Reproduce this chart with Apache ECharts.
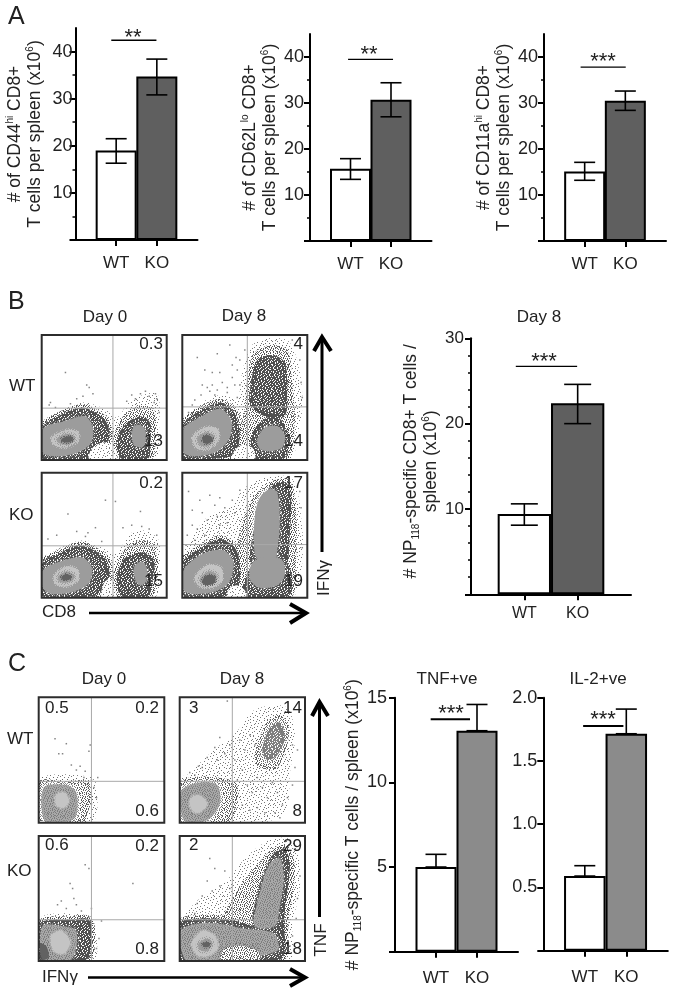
<!DOCTYPE html>
<html><head><meta charset="utf-8">
<style>html,body{margin:0;padding:0;background:#fff}#c{width:676px;height:996px}</style>
<script src="https://cdn.jsdelivr.net/npm/echarts@6/dist/echarts.min.js"></script>
</head><body><div id="c"></div>
<script>
// ---------- bar chart data ----------
const categories = ['WT', 'KO'];
const cd44Values = [19, 34.7];
const cd44Err = [[16.3, 21.5], [30.8, 38.4]];
const cd62Values = [15.7, 30.7];
const cd62Err = [[13.4, 17.9], [27, 34.4]];
const cd11Values = [15.1, 30.5];
const cd11Err = [[13.2, 17.1], [28.4, 32.6]];
const npValues = [9.4, 22.4];
const npErr = [[8.1, 10.6], [20, 24.6]];
const tnfValues = [5, 13.05];
const tnfErr = [[5, 5.75], [13.05, 14.6]];
const il2Values = [0.59, 1.715];
const il2Err = [[0.59, 0.672], [1.715, 1.91]];

// ---------- flow cytometry panels (x,y in % of the plot) ----------
// polygons: [level, x,y, x,y ...]  levels: S sparse, M medium, N dense light, D dense dark, H mottled grey, G grey, L light, C core
const bWT0Layers = [
 ['S',1,29,15,39,33,46,50,41,60,34,70,46,84,53,93,52,94,30,90,1,1,1],
 ['D',1,27,15,36,33,42,44,37,52,30,54,18,47,6,40,1,1,1],
 ['M',58,20,66,36,80,44,90,40,91,16,88,1,60,1],
 ['D',60,12,62,22,71,32,81,35,87,29,87,15,85,1,64,1],
 ['S',38,1,41,10,50,14,58,10,60,1],
 ['G',1,25,18,31,35,35,41,25,39,13,26,5,10,3,1,6],
 ['L',8,18,20,24,29,22,29,15,20,10,10,12],
 ['G',12,17,20,21,26,19,26,15,20,12,13,14],
 ['C',16,17,21,19,25,18,24,15,20,14,16,15],
 ['G',72,20,74,27,79,28,83,24,83,14,80,10,74,12]];
const bWT0Dots = [19,70,36,60,38,58,41,53,7,46,6,44,79,53,83,55,91,53,92,49,28,49,68,47,72,52,86,51,75,49,90,46,94,38,33,51,23,45,11,42];
const bWT8Layers = [
 ['S',0,30,16,46,30,52,44,50,48,70,54,90,66,97,85,95,94,70,96,42,92,20,85,1,0,1],
 ['M',50,42,52,65,57,85,70,92,84,88,88,60,90,30,84,1,45,1],
 ['D',55,62,60,80,72,84,82,78,84,55,82,35,70,34,60,38,54,45],
 ['D',0,27,10,37,30,46,40,40,45,28,45,12,38,3,25,1,0,1],
 ['D',54,12,58,25,68,34,78,33,84,22,84,5,80,1,56,1],
 ['S',40,1,42,8,48,12,56,10,58,1],
 ['G',1,25,12,33,30,41,39,32,38,18,28,7,12,3,1,6],
 ['L',8,18,18,26,28,25,29,16,22,9,12,9],
 ['G',12,18,19,22,25,20,25,15,20,11,14,12],
 ['C',16,18,20,20,24,18,24,15,20,13,17,14],
 ['G',60,16,66,26,76,27,82,20,80,10,70,7,62,9]];
const bWT8Dots = [12,82,28,85,30,70,32,62,20,58,15,52,8,44,42,60,40,76,46,80,24,70,26,52,36,54,44,50,50,88,94,80,88,96,95,62,96,50,93,35,38,92,18,72,5,38,10,48,24,60,34,44,40,66,44,72,36,58,28,56,46,60,43,82,22,55,16,60];
const bKO0Layers = [
 ['S',1,30,15,40,35,46,52,38,60,36,72,52,85,53,94,45,93,20,88,1,1,1],
 ['D',1,28,15,36,30,42,42,38,52,30,54,18,48,5,40,1,1,1],
 ['M',58,20,64,36,78,46,90,42,92,18,88,1,60,1],
 ['D',60,12,62,24,68,33,82,36,90,30,88,10,85,1,64,1],
 ['S',48,1,50,12,55,15,58,8,60,1],
 ['G',1,22,18,30,33,32,40,24,38,12,26,5,8,3,1,8],
 ['L',10,18,20,25,29,22,29,14,20,9,11,11],
 ['G',13,17,20,21,26,18,25,14,19,12,14,13],
 ['C',16,17,20,19,24,17,23,15,19,14,16,15],
 ['G',74,18,74,25,80,29,84,24,84,14,80,10,76,12]];
const bKO0Dots = [21,67,51,78,59,77,79,69,43,56,37,52,28,53,5,47,12,50,35,49,72,58,80,57,86,55,92,50,65,56,48,45];
const bKO8Layers = [
 ['S',0,32,10,52,22,66,38,72,50,88,66,96,88,95,96,55,95,20,87,1,0,1],
 ['M',42,30,48,60,58,82,72,92,85,94,91,70,91,30,86,1,40,1],
 ['D',54,30,58,58,64,78,72,90,83,92,87,80,86,50,84,25,80,15,60,18],
 ['D',0,28,15,40,30,47,42,40,46,28,45,10,38,2,0,1],
 ['D',48,5,52,20,60,30,75,36,84,28,88,15,84,1,50,1],
 ['S',36,1,38,8,44,10,50,6,51,1],
 ['G',58,35,58,65,62,80,70,87,76,84,78,60,76,38,74,28,64,28],
 ['G',54,15,56,28,68,33,80,30,82,18,76,10,62,8],
 ['G',1,22,16,35,33,38,41,28,37,12,26,5,10,3,1,6],
 ['L',10,16,20,26,31,24,32,14,24,8,14,9],
 ['G',14,15,21,21,27,19,27,13,21,10,16,11],
 ['C',16,14,20,18,26,17,26,12,20,10,17,11]];
const bKO8Dots = [5,85,8,70,14,78,20,62,28,65,34,72,22,82,12,55,40,78,46,86,4,50,30,58,95,72,94,85,96,40,18,50,3,42,36,60,26,74,42,68,16,68,8,58,30,80,10,46];
const cWT0Layers = [
 ['S',1,35,40,37,46,30,43,1,1,1],
 ['M',1,33,20,33,39,33,42,20,38,5,36,1,1,1],
 ['H',4,28,22,30,30,24,30,6,24,1,5,1],
 ['L',14,22,20,24,24,18,20,12,14,14]];
const cWT0Dots = [13,67,22,63,16,55,19,55,41,62,40,57,26,46,33,45,37,41,36,36,44,28,46,20,42,34,30,42,42,15,47,36];
const cWT8Layers = [
 ['S',8,36,25,56,45,72,60,90,85,92,92,70,88,40,85,10,70,1,40,1,30,30],
 ['M',60,48,68,78,80,86,87,76,84,55,75,42],
 ['N',66,58,72,76,80,80,84,68,78,54,70,50],
 ['M',1,33,30,36,46,30,40,1,1,1],
 ['H',1,25,15,32,30,30,32,15,22,2,4,1],
 ['L',8,18,15,22,22,15,15,8,10,10]];
const cWT8Dots = [38,97,15,45,22,52,28,60,32,68,36,55,40,62,44,50,48,66,52,58,56,70,60,62,64,54,50,42,46,34,54,30,58,24,62,36,66,28,70,20,74,32,78,24,82,14,86,20,90,30,92,44,90,62,94,58,50,14,56,10,62,12,68,8,76,8,80,4,44,12,8,40,18,44,12,38,30,50];
const cKO0Layers = [
 ['S',1,34,30,38,42,34,46,20,44,1,1,1],
 ['D',1,30,25,33,40,33,42,15,38,1,1,1],
 ['H',3,28,18,28,30,24,26,1,4,1],
 ['L',10,20,18,24,25,15,20,6,12,8],
 ['C',1,14,6,12,8,3,3,1]];
const cKO0Dots = [40,74,37,77,25,62,27,58,18,48,15,45,30,45,34,40,28,50,22,42,75,62,42,42,40,35,50,32,46,10,48,18];
const cKO8Layers = [
 ['S',0,30,16,50,35,62,55,85,75,98,92,95,96,60,90,30,87,1,0,1],
 ['M',35,30,45,55,60,75,75,90,85,92,92,75,88,40,82,20],
 ['D',58,28,62,55,72,82,82,90,88,80,84,40,82,15,68,18],
 ['D',0,30,15,34,40,33,60,28,82,25,80,1,0,1],
 ['H',60,28,64,55,72,78,80,82,83,66,80,45,76,28],
 ['H',1,24,15,30,30,30,50,26,75,22,78,8,30,1,5,1],
 ['M',33,1,36,10,50,12,62,8,64,1],
 ['L',10,14,18,24,28,20,30,10,22,4,14,5],
 ['G',15,14,22,18,26,14,22,8,16,9],
 ['C',18,14,23,15,24,12,20,11]];
const cKO8Dots = [24,82,28,74,22,64,14,46,18,52,26,56,32,60,12,38,6,35,36,72,94,50,96,68,90,20,93,34,88,12,40,58];

// ---------- gates [x,y] in % of the plot ----------
const bGates = [[57,41.5],[52,42.5],[57,41.5],[52,42.5]];
const cGates = [[42,33],[42,33],[42,33],[42,33]];

// ---------- speckle textures ----------
const tileS = ['#.......#....#..','.....#..........','..#.......#.....','.......#.......#','....#.........#.','#..........#....','......#.........','..#.......#...#.','............#...','.....#...#......','.#..............','........#.....#.','...#........#...','#.....#.........','..........#.....','...#.........#..'];
const tileM = ['#..#.#..#...#.#.','..#...#...#.#..#','#...#.#.#.....#.','.#.#.....#.#.#..','...#.#.#...#...#','#.#.....#.#..#..','..#.#.#...#.#..#','#.....#.#.....#.','.#.#.#...#.#.#..','...#...#.#...#.#','#.#..#.....#.#..','..#.#..#.#.....#','#...#.#...#.#.#.','.#.#...#.#..#...','...#.#...#.#..#.','#.#...#.#...#..#'];
const tileD = ['##.###.####.##.#','.####.###.#####.','###.####.###.###','#.#####.###.##.#','####.##.######.#','.###.####.#.####','##.####.####.##.','####.#.###.####.','.##.#####.###.##','###.###.####.###','#.####.###.#.###','####.#####.###.#','.###.##.#####.##','##.####.##.####.','#####.###.####.#','.##.####.###.###'];
const tileShift = [0,5,11,3,14,7,9,2,13];
function tile(rows, color, bg){
  const cv = document.createElement('canvas'); cv.width = cv.height = 48;
  const g = cv.getContext('2d');
  if(bg){ g.fillStyle = bg; g.fillRect(0,0,48,48); }
  g.fillStyle = color;
  tileShift.forEach((s,b)=>{
    const bx=(b%3)*16, by=Math.floor(b/3)*16;
    rows.forEach((r,y)=>{ for(let x=0;x<16;x++) if(r[(x+s)%16]==='#') g.fillRect(bx+x,by+y,1,1); });
  });
  return {image: cv, repeat: 'repeat'};
}
const levelFill = {S: tile(tileS,'#777','#fff'), M: tile(tileM,'#5c5c5c','#fff'), N: tile(tileD,'#808080','#fff'), D: tile(tileD,'#505050','#fff'),
  H: tile(tileM,'#7d7d7d','#a8a8a8'), G:'#9c9c9c', L:'#c4c4c4', C:'#626262'};
const levelEdge = {
  M:[tile(tileS,'#666'),6], N:[tile(tileM,'#777'),7], D:[tile(tileM,'#505050'),7], G:[tile(tileM,'#9c9c9c'),5], H:[tile(tileM,'#8c8c8c'),5], L:[tile(tileM,'#c4c4c4'),3], C:[tile(tileM,'#626262'),3]};

// ---------- layout ----------
const FONT = '"Liberation Sans", Arial, sans-serif';
const INK = '#222';
const grids = [], xAxes = [], yAxes = [], series = [], graphics = [];

function txt(text, x, y, size, o){
  graphics.push(Object.assign({type:'text', x, y, rotation:(o&&o.rot)||0, z:50,
    style:{text, font:`${size}px ${FONT}`, fill:INK, align:(o&&o.align)||'center', verticalAlign:'middle'}}));
}
function polyline(points, w){
  graphics.push({type:'polyline', z:50, shape:{points}, style:{stroke:'#000', lineWidth:w, fill:null, lineCap:'butt', lineJoin:'miter'}});
}

function barPanel(c){
  const g = grids.length;
  grids.push({left:c.left, top:c.top, width:c.width, height:c.height});
  const xi = xAxes.length;
  xAxes.push({gridIndex:g, type:'value', position:'bottom', min:0, max:3, splitLine:{show:false},
    axisLine:{show:true, onZero:false, lineStyle:{color:'#000', width:2}},
    axisTick:{show:true, customValues:[1,2], length:6, lineStyle:{color:'#000', width:2}},
    axisLabel:{customValues:[1,2], formatter:v=>categories[v-1], color:INK, fontFamily:FONT, fontSize:c.xFont||17, margin:c.xMargin}});
  const y0 = yAxes.length;
  yAxes.push({gridIndex:g, type:'value', position:'left', min:0, max:c.max, splitLine:{show:false},
    axisLine:{show:true, onZero:false, lineStyle:{color:'#000', width:2}},
    axisTick:{show:true, customValues:c.major, length:6, lineStyle:{color:'#000', width:2}},
    axisLabel:{customValues:c.labels, formatter:c.fmt||(v=>String(v)), color:INK, fontFamily:FONT, fontSize:c.yFont||18, margin:c.yMargin},
    name:c.name, nameLocation:'middle', nameGap:c.nameGap, nameRotate:90,
    nameTextStyle:{color:INK, fontFamily:FONT, fontSize:17.5, lineHeight:20, padding:c.namePad||0,
      rich:{s:{fontSize:10, verticalAlign:'top', lineHeight:20, fontFamily:FONT, color:INK},
            b:{fontSize:10, verticalAlign:'bottom', lineHeight:20, fontFamily:FONT, color:INK}}}});
  if(c.minor.length) yAxes.push({gridIndex:g, type:'value', position:'left', min:0, max:c.max, splitLine:{show:false},
    axisLine:{show:false, onZero:false}, axisLabel:{show:false},
    axisTick:{show:true, customValues:c.minor, length:3, lineStyle:{color:'#000', width:1.5}}});
  series.push({type:'bar', xAxisIndex:xi, yAxisIndex:y0, barWidth:c.barW, z:2,
    data:[{value:[1,c.values[0]], itemStyle:{color:'#fff', borderColor:'#000', borderWidth:2}},
          {value:[2,c.values[1]], itemStyle:{color:c.fill, borderColor:'#000', borderWidth:2}}]});
  series.push({type:'custom', xAxisIndex:xi, yAxisIndex:y0, z:3,
    data:c.err.map((e,i)=>[i+1,e[0],e[1]]),
    renderItem:(p,api)=>{
      const x=api.value(0), lo=api.coord([x,api.value(1)]), hi=api.coord([x,api.value(2)]);
      const hw=c.cap/2, st={stroke:'#000', lineWidth:1.6};
      return {type:'group', children:[
        {type:'line', shape:{x1:lo[0],y1:lo[1],x2:hi[0],y2:hi[1]}, style:st},
        {type:'line', shape:{x1:hi[0]-hw,y1:hi[1],x2:hi[0]+hw,y2:hi[1]}, style:st},
        {type:'line', shape:{x1:lo[0]-hw,y1:lo[1],x2:lo[0]+hw,y2:lo[1]}, style:st}]};
    }});
  series.push({type:'line', xAxisIndex:xi, yAxisIndex:y0, z:4, symbol:'none', silent:true,
    lineStyle:{color:'#000', width:c.sigW||1.3}, data:[[c.sig[0],c.sig[2]],[c.sig[1],c.sig[2]]]});
  txt(c.stars, c.starX, c.starY+5, 22);
}

function flowPanel(box, layers, dots, gate){
  const g = grids.length;
  grids.push({left:box[0], top:box[1], width:box[2], height:box[3]});
  xAxes.push({gridIndex:g, type:'value', min:0, max:100, show:false, splitLine:{show:false}});
  yAxes.push({gridIndex:g, type:'value', min:0, max:100, show:false, splitLine:{show:false}});
  const xi=xAxes.length-1, yi=yAxes.length-1;
  series.push({type:'custom', xAxisIndex:xi, yAxisIndex:yi, z:2, silent:true,
    data:layers.map(l=>[l[1],l[2]]),
    renderItem:(p,api)=>{
      const l=layers[p.dataIndex], pts=[], e=levelEdge[l[0]];
      for(let i=1;i<l.length;i+=2) pts.push(api.coord([l[i],l[i+1]]));
      return {type:'polygon', shape:{points:pts, smooth:0.3},
        style:{fill:levelFill[l[0]], stroke:e?e[0]:null, lineWidth:e?e[1]:0},
        clipPath:{type:'rect', shape:{x:p.coordSys.x,y:p.coordSys.y,width:p.coordSys.width,height:p.coordSys.height}}};
    }});
  const dd=[]; for(let i=0;i<dots.length;i+=2) dd.push([dots[i],dots[i+1]]);
  series.push({type:'scatter', xAxisIndex:xi, yAxisIndex:yi, z:3, silent:true, symbol:'rect', symbolSize:1.5,
    itemStyle:{color:'#666'}, data:dd});
  series.push({type:'custom', xAxisIndex:xi, yAxisIndex:yi, z:4, silent:true, data:[[gate[0],gate[1]]],
    renderItem:(p,api)=>{
      const gx=api.value(0), gy=api.value(1), st={stroke:'#a8a8a8', lineWidth:1};
      const a=api.coord([gx,0]),b=api.coord([gx,100]),c=api.coord([0,gy]),d=api.coord([100,gy]);
      const o=api.coord([0,100]), e=api.coord([100,0]);
      return {type:'group', children:[
        {type:'line', shape:{x1:a[0],y1:a[1],x2:b[0],y2:b[1]}, style:st},
        {type:'line', shape:{x1:c[0],y1:c[1],x2:d[0],y2:d[1]}, style:st},
        {type:'rect', shape:{x:o[0],y:o[1],width:e[0]-o[0],height:e[1]-o[1]}, style:{fill:null, stroke:'#2c2c2c', lineWidth:2}}]};
    }});
}

// panel A
barPanel({left:75.5, top:28, width:122, height:212, max:45, major:[0,10,20,30,40], minor:[5,15,25,35], labels:[10,20,30,40], xMargin:15, yMargin:3,
  values:cd44Values, err:cd44Err, fill:'#5f5f5f', barW:41, cap:21, sig:[0.88,1.99,42.4], stars:'**', starX:133, starY:33,
  name:'# of CD44{s|hi} CD8+\nT cells per spleen (x10{s|6})', nameGap:30});
barPanel({left:310, top:34, width:121.5, height:207, max:45, major:[0,10,20,30,40], minor:[5,15,25,35], labels:[10,20,30,40], xMargin:15, yMargin:6,
  values:cd62Values, err:cd62Err, fill:'#5f5f5f', barW:41, cap:21, sig:[0.94,2.05,39.5], stars:'**', starX:369, starY:50,
  name:'# of CD62L{s|lo} CD8+\nT cells per spleen (x10{s|6})', nameGap:26});
barPanel({left:544, top:34, width:122, height:207, max:45, major:[0,10,20,30,40], minor:[5,15,25,35], labels:[10,20,30,40], xMargin:15, yMargin:6,
  values:cd11Values, err:cd11Err, fill:'#5f5f5f', barW:41, cap:21, sig:[0.90,2.01,37.8], stars:'***', starX:603, starY:57,
  name:'# of CD11a{s|hi} CD8+\nT cells per spleen (x10{s|6})', nameGap:30});
// panel B bars
barPanel({left:471, top:338.3, width:160, height:256, max:30, major:[0,10,20,30], minor:[2,4,6,8,12,14,16,18,22,24,26,28], labels:[10,20,30], xMargin:11, yMargin:7,
  values:npValues, err:npErr, fill:'#5f5f5f', barW:53.3, cap:27, sig:[0.84,1.99,26.7], stars:'***', starX:544, starY:357, xFont:16, yFont:17,
  name:'# NP{b|118}-specific CD8+ T cells /\nspleen (x10{s|6})', nameGap:26, namePad:[0,0,0,10]});
// panel C bars
barPanel({left:395, top:697.7, width:123, height:254, max:15, major:[0,5,10,15], minor:[], labels:[5,10,15], xMargin:18, yMargin:8,
  values:tnfValues, err:tnfErr, fill:'#8b8b8b', barW:41, cap:21, sig:[0.87,1.83,13.73], sigW:2, stars:'***', starX:451, starY:709, xFont:17,
  name:'# NP{b|118}-specific T cells / spleen (x10{s|6})', nameGap:24});
barPanel({left:543.3, top:697.7, width:124.5, height:253, max:2, major:[0,0.5,1,1.5,2], minor:[], labels:[0.5,1,1.5,2], xMargin:18, yMargin:6,
  values:il2Values, err:il2Err, fill:'#8b8b8b', barW:41.5, cap:21, sig:[0.96,1.93,1.776], sigW:2, stars:'***', starX:603, starY:715, xFont:17,
  fmt:v=>v.toFixed(1), yFont:18});

// flow plots
flowPanel([41.7,335,125,125], bWT0Layers, bWT0Dots, bGates[0]);
flowPanel([182.3,335,125,125], bWT8Layers, bWT8Dots, bGates[1]);
flowPanel([41.7,472.7,125,125], bKO0Layers, bKO0Dots, bGates[2]);
flowPanel([182.3,472.7,125,125], bKO8Layers, bKO8Dots, bGates[3]);
flowPanel([38.7,697.3,125.6,125.4], cWT0Layers, cWT0Dots, cGates[0]);
flowPanel([179.7,697.3,125.3,125.4], cWT8Layers, cWT8Dots, cGates[1]);
flowPanel([38.7,836,125.6,125], cKO0Layers, cKO0Dots, cGates[2]);
flowPanel([179.7,836,125.3,125], cKO8Layers, cKO8Dots, cGates[3]);

// letters and headings
txt('A',8,17,25,{align:'left'}); txt('B',8,302,25,{align:'left'}); txt('C',8,664,25,{align:'left'});
txt('Day 0',105,317,17); txt('Day 8',244,316,17); txt('Day 8',539,317,17);
txt('WT',9,386,17,{align:'left'}); txt('KO',9,515,17,{align:'left'});
txt('Day 0',104,679,17); txt('Day 8',242,679,17);
txt('WT',7,739,17,{align:'left'}); txt('KO',7,871,17,{align:'left'});
txt('TNF+ve',447,679,17); txt('IL-2+ve',598,679,17);
txt('CD8',42,612,17,{align:'left'}); txt('IFNγ',42,977,17,{align:'left'});
txt('IFNγ',324,578,17,{rot:Math.PI/2}); txt('TNF',321,940,17,{rot:Math.PI/2});

// quadrant percentages
[['0.3',163,344],['13',163,441],['4',303,344],['14',303,441],['0.2',163,483],['15',163,581],['17',303,483],['19',303,581]]
 .forEach(t=>txt(t[0],t[1],t[2],17,{align:'right'}));
[['0.5',45,708],['3',189,708],['0.6',45,845],['2',189,845]].forEach(t=>txt(t[0],t[1],t[2],17,{align:'left'}));
[['0.2',159,708],['0.6',159,811],['14',302,708],['8',302,811],['0.2',159,846],['0.8',159,949],['29',302,846],['18',302,949]]
 .forEach(t=>txt(t[0],t[1],t[2],17,{align:'right'}));

// big arrows
polyline([[322,552],[322,337]],3); polyline([[314,351],[322,337],[331,351]],4);
polyline([[89,613],[305,613]],2.5); polyline([[290,604],[306,613],[290,623]],4);
polyline([[319.5,917],[319.5,702]],3); polyline([[312,716],[319.5,702],[328,716]],4);
polyline([[88,977.5],[304,977.5]],2.5); polyline([[290,969],[305,977.5],[290,986]],4);

const chart = echarts.init(document.getElementById('c'), null, {renderer:'canvas', width:676, height:996});
chart.setOption({animation:false, backgroundColor:'#fff', tooltip:{show:false}, legend:{show:false},
  grid:grids, xAxis:xAxes, yAxis:yAxes, series, graphic:graphics});
</script></body></html>
